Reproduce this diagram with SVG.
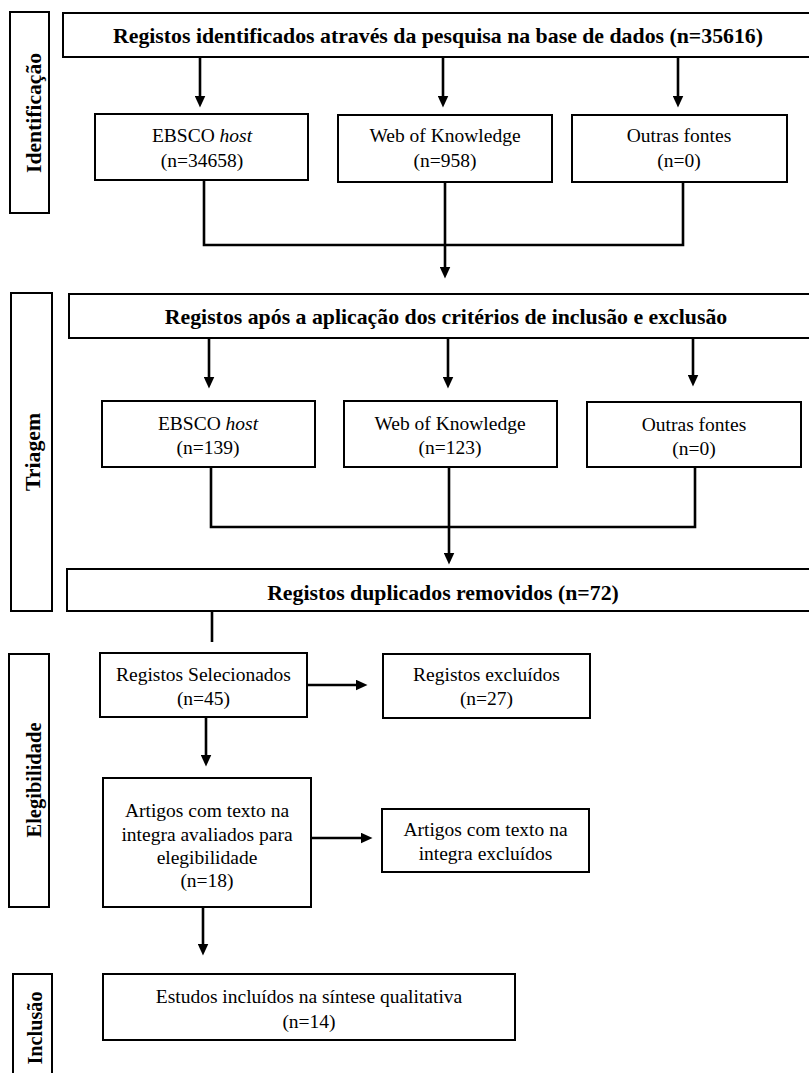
<svg xmlns="http://www.w3.org/2000/svg" width="809" height="1073" viewBox="0 0 809 1073">
<defs>
<style>
.box{fill:#fff;stroke:#000;stroke-width:2}
.side{fill:#fff;stroke:#000;stroke-width:2}
.t{font-family:"Liberation Serif","Times New Roman",serif;font-size:19.5px;fill:#000;text-anchor:middle}
.b{font-family:"Liberation Serif","Times New Roman",serif;font-size:21.8px;font-weight:bold;fill:#000;text-anchor:middle}
.lbl{font-family:"Liberation Serif","Times New Roman",serif;font-size:22px;font-weight:bold;fill:#000;text-anchor:middle}
.c{fill:none;stroke:#000;stroke-width:2.6;stroke-linejoin:miter}
</style>
<marker id="ah" markerUnits="userSpaceOnUse" markerWidth="12" markerHeight="11" refX="0.5" refY="5.5" orient="auto">
<path d="M0,0 L12,5.5 L0,11 z" fill="#000"/>
</marker>
</defs>
<rect width="809" height="1073" fill="#fff"/>

<g id="sec-identificacao">
<rect class="side" x="10" y="12" width="39" height="201"/>
<text class="lbl" transform="translate(41,113) rotate(-90)" textLength="120" lengthAdjust="spacingAndGlyphs">Identificação</text>
</g>
<g id="sec-triagem">
<rect class="side" x="11" y="293" width="41" height="318"/>
<text class="lbl" transform="translate(40,452) rotate(-90)" textLength="78" lengthAdjust="spacingAndGlyphs">Triagem</text>
</g>
<g id="sec-elegibilidade">
<rect class="side" x="9" y="654" width="40" height="253"/>
<text class="lbl" transform="translate(41,780) rotate(-90)" textLength="115" lengthAdjust="spacingAndGlyphs">Elegibilidade</text>
</g>
<g id="sec-inclusao">
<rect class="side" x="13" y="974" width="39" height="110"/>
<text class="lbl" transform="translate(42,1028) rotate(-90)" textLength="73" lengthAdjust="spacingAndGlyphs">Inclusão</text>
</g>

<g id="n-registos-identificados">
<rect class="box" x="63" y="13" width="760" height="44"/>
<text class="b" x="438" y="42.5">Registos identificados através da pesquisa na base de dados (n=35616)</text>
</g>
<g id="n-ebsco1">
<rect class="box" x="95" y="114" width="213" height="66"/>
<text class="t" x="202" y="142">EBSCO <tspan font-style="italic">host</tspan></text>
<text class="t" x="202" y="167">(n=34658)</text>
</g>
<g id="n-wok1">
<rect class="box" x="338" y="115" width="214" height="67"/>
<text class="t" x="445" y="142">Web of Knowledge</text>
<text class="t" x="445" y="167">(n=958)</text>
</g>
<g id="n-outras1">
<rect class="box" x="572" y="115" width="215" height="67"/>
<text class="t" x="679" y="142">Outras fontes</text>
<text class="t" x="679" y="167">(n=0)</text>
</g>

<g id="n-registos-apos">
<rect class="box" x="69" y="294" width="750" height="44"/>
<text class="b" x="446" y="323.5">Registos após a aplicação dos critérios de inclusão e exclusão</text>
</g>
<g id="n-ebsco2">
<rect class="box" x="102" y="401" width="213" height="66"/>
<text class="t" x="208" y="430">EBSCO <tspan font-style="italic">host</tspan></text>
<text class="t" x="208" y="454">(n=139)</text>
</g>
<g id="n-wok2">
<rect class="box" x="344" y="401" width="213" height="66"/>
<text class="t" x="450" y="430">Web of Knowledge</text>
<text class="t" x="450" y="454">(n=123)</text>
</g>
<g id="n-outras2">
<rect class="box" x="587" y="402" width="214" height="65"/>
<text class="t" x="694" y="431">Outras fontes</text>
<text class="t" x="694" y="455">(n=0)</text>
</g>

<g id="n-duplicados">
<rect class="box" x="67" y="569" width="760" height="42"/>
<text class="b" x="443" y="599.5">Registos duplicados removidos (n=72)</text>
</g>

<g id="n-selecionados">
<rect class="box" x="100" y="653" width="207" height="64"/>
<text class="t" x="203.5" y="681">Registos Selecionados</text>
<text class="t" x="203.5" y="705">(n=45)</text>
</g>
<g id="n-excluidos">
<rect class="box" x="383" y="654" width="207" height="64"/>
<text class="t" x="486.5" y="681">Registos excluídos</text>
<text class="t" x="486.5" y="705">(n=27)</text>
</g>
<g id="n-artigos">
<rect class="box" x="103" y="778" width="208" height="129"/>
<text class="t" x="207" y="817">Artigos com texto na</text>
<text class="t" x="207" y="841">integra avaliados para</text>
<text class="t" x="207" y="864">elegibilidade</text>
<text class="t" x="207" y="887">(n=18)</text>
</g>
<g id="n-artigos-excluidos">
<rect class="box" x="382" y="809" width="207" height="63"/>
<text class="t" x="485.5" y="836">Artigos com texto na</text>
<text class="t" x="485.5" y="860">integra excluídos</text>
</g>
<g id="n-estudos">
<rect class="box" x="103" y="974" width="412" height="66"/>
<text class="t" x="309" y="1003">Estudos incluídos na síntese qualitativa</text>
<text class="t" x="309" y="1028">(n=14)</text>
</g>

<g id="connectors">
<line class="c" x1="200" y1="57" x2="200" y2="96" marker-end="url(#ah)"/>
<line class="c" x1="443" y1="57" x2="443" y2="96" marker-end="url(#ah)"/>
<line class="c" x1="678" y1="57" x2="678" y2="96" marker-end="url(#ah)"/>
<polyline class="c" points="204,180 204,245 683,245 683,182"/>
<line class="c" x1="445" y1="182" x2="445" y2="267" marker-end="url(#ah)"/>

<line class="c" x1="209" y1="338" x2="209" y2="377" marker-end="url(#ah)"/>
<line class="c" x1="448" y1="338" x2="448" y2="377" marker-end="url(#ah)"/>
<line class="c" x1="693" y1="338" x2="693" y2="375" marker-end="url(#ah)"/>
<polyline class="c" points="211,467 211,527 695,527 695,467"/>
<line class="c" x1="449" y1="467" x2="449" y2="553" marker-end="url(#ah)"/>

<line class="c" x1="212" y1="611" x2="212" y2="642"/>
<line class="c" x1="307" y1="685" x2="356" y2="685" marker-end="url(#ah)"/>
<line class="c" x1="206" y1="717" x2="206" y2="755" marker-end="url(#ah)"/>
<line class="c" x1="311" y1="838" x2="361" y2="838" marker-end="url(#ah)"/>
<line class="c" x1="203" y1="907" x2="203" y2="944" marker-end="url(#ah)"/>
</g>
</svg>
